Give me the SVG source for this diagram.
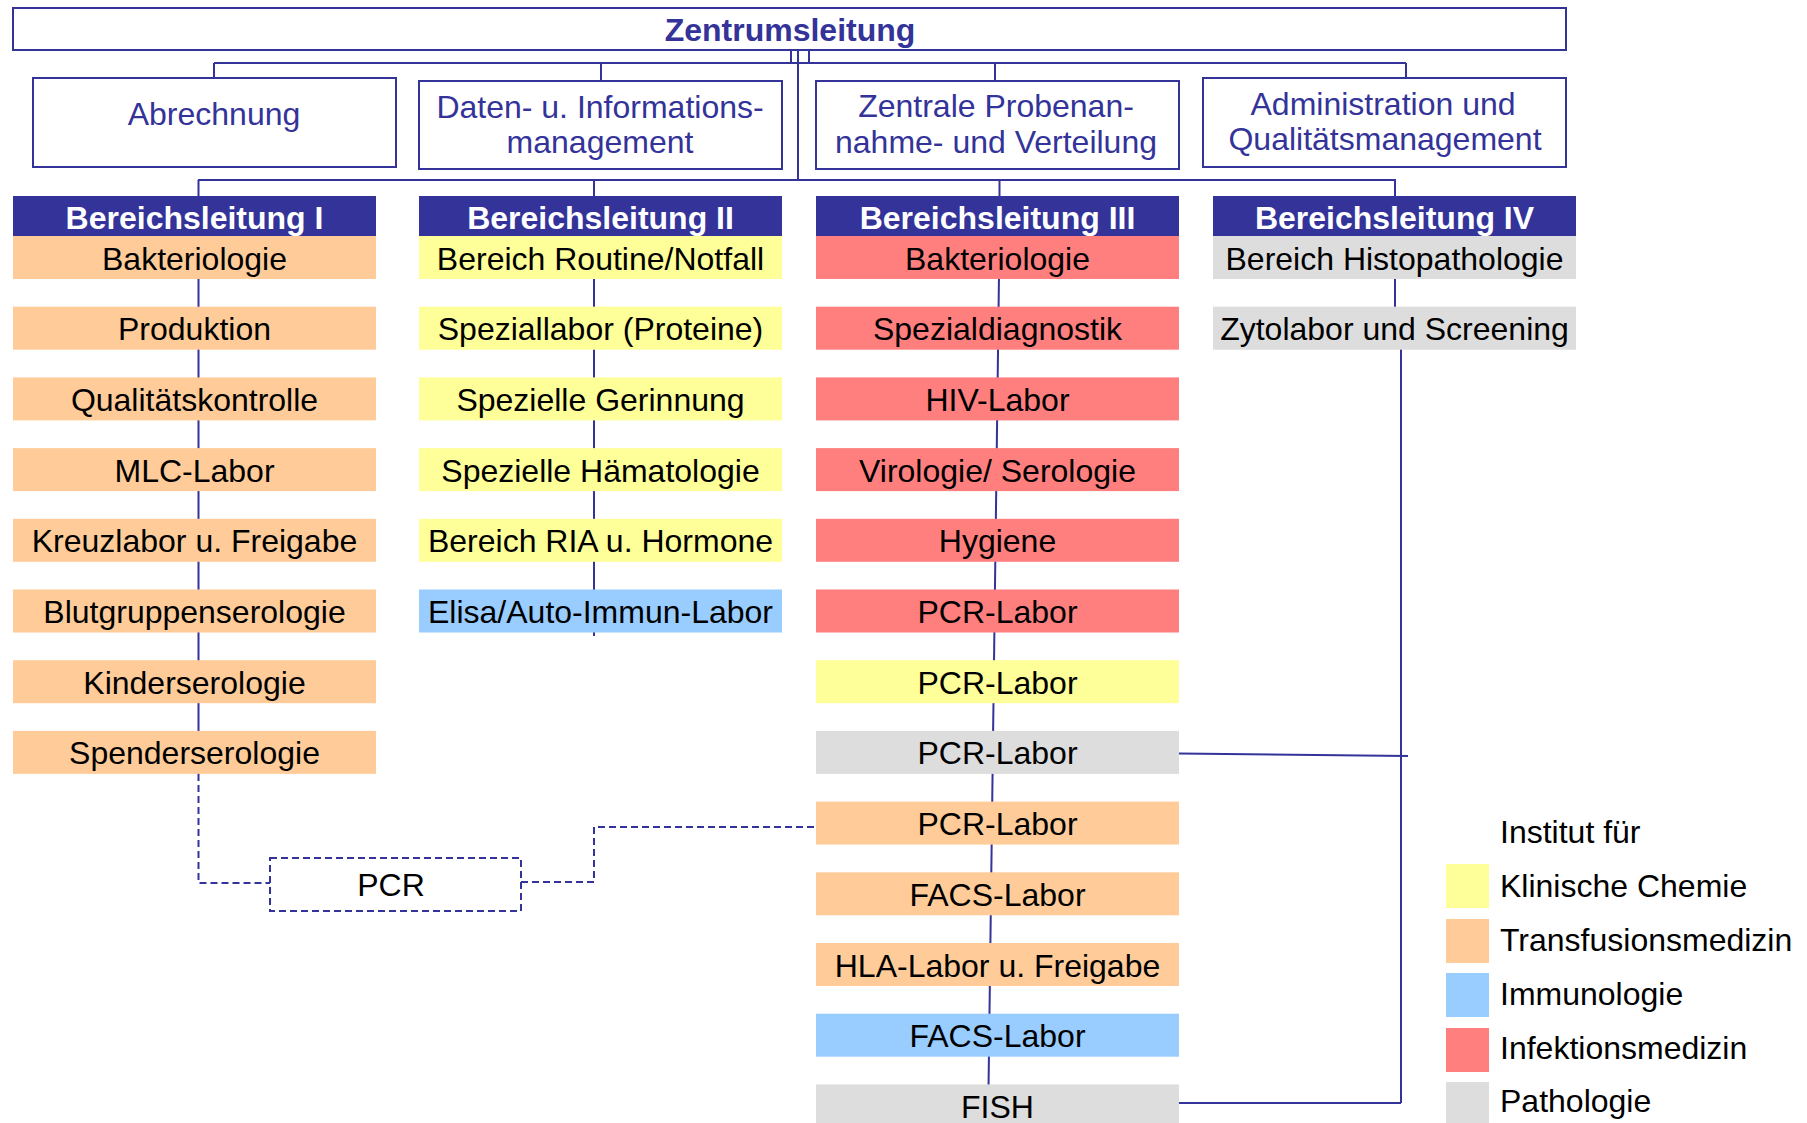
<svg xmlns="http://www.w3.org/2000/svg" width="1807" height="1123" viewBox="0 0 1807 1123">
<style>
text{font-family:"Liberation Sans",Arial,sans-serif;font-size:32px;text-anchor:middle}
.staff{fill:#fff;stroke:#333399;stroke-width:2}
.st{fill:#333399}
.hd{fill:#333399}
.ht{fill:#fff;font-weight:bold}
.it{fill:#000}
.or{fill:#FFCC99}.ye{fill:#FFFF99}.rd{fill:#FF7F7F}.bl{fill:#99CCFF}.gr{fill:#DDDDDD}
.ln{stroke:#333399;stroke-width:2;fill:none}
.dash{stroke:#333399;stroke-width:2;fill:none;stroke-dasharray:7 4}
.lg{text-anchor:start;fill:#000}
</style>
<g id="connectors">
<line class="ln" x1="798" y1="50" x2="798" y2="180" stroke-width="3"/>
<line class="ln" x1="791" y1="50" x2="791" y2="63"/>
<line class="ln" x1="809" y1="50" x2="809" y2="63"/>
<line class="ln" x1="214" y1="63" x2="1406" y2="63"/>
<line class="ln" x1="214" y1="63" x2="214" y2="78"/>
<line class="ln" x1="601" y1="63" x2="601" y2="81"/>
<line class="ln" x1="995" y1="63" x2="995" y2="81"/>
<line class="ln" x1="1406" y1="63" x2="1406" y2="78"/>
<line class="ln" x1="198" y1="180" x2="1396" y2="180"/>
<line class="ln" x1="594" y1="180" x2="999" y2="180" stroke-width="3"/>
<line class="ln" x1="198.5" y1="180" x2="198.5" y2="774"/>
<line class="ln" x1="594" y1="180" x2="594" y2="636"/>
<line class="ln" x1="999.5" y1="180" x2="999.5" y2="236"/>
<line class="ln" x1="999.5" y1="236" x2="988.5" y2="1090"/>
<line class="ln" x1="1395" y1="180" x2="1395" y2="307"/>
<line class="ln" x1="1401" y1="349" x2="1401" y2="1103"/>
<line class="ln" x1="1179" y1="753.5" x2="1408" y2="756"/>
<line class="ln" x1="1179" y1="1103" x2="1401" y2="1103"/>
<path class="dash" d="M198.5 774 V883 H270"/>
<path class="dash" d="M521 882 H594 V827 H816"/>
</g>
<g id="zentrumsleitung">
<rect class="staff" x="13" y="8" width="1553" height="42"/>
<text class="st" x="790" y="41" font-weight="bold">Zentrumsleitung</text>
</g>
<g id="abrechnung">
<rect class="staff" x="33" y="78" width="363" height="89"/>
<text class="st" x="214" y="124.5">Abrechnung</text>
</g>
<g id="daten">
<rect class="staff" x="419" y="81" width="363" height="88"/>
<text class="st" x="600" y="117.5">Daten- u. Informations-</text>
<text class="st" x="600" y="152.5">management</text>
</g>
<g id="zentrale">
<rect class="staff" x="816" y="81" width="363" height="88"/>
<text class="st" x="996" y="117">Zentrale Probenan-</text>
<text class="st" x="996" y="152.5">nahme- und Verteilung</text>
</g>
<g id="administration">
<rect class="staff" x="1203" y="78" width="363" height="89"/>
<text class="st" x="1383" y="115">Administration und</text>
<text class="st" x="1385" y="150">Qualitätsmanagement</text>
</g>
<g id="bl1">
<rect class="hd" x="13" y="196" width="363" height="40"/>
<text class="ht" x="194.5" y="228.5">Bereichsleitung I</text>
</g>
<g id="bl2">
<rect class="hd" x="419" y="196" width="363" height="40"/>
<text class="ht" x="600.5" y="228.5">Bereichsleitung II</text>
</g>
<g id="bl3">
<rect class="hd" x="816" y="196" width="363" height="40"/>
<text class="ht" x="997.5" y="228.5">Bereichsleitung III</text>
</g>
<g id="bl4">
<rect class="hd" x="1213" y="196" width="363" height="40"/>
<text class="ht" x="1394.5" y="228.5">Bereichsleitung IV</text>
</g>
<g id="c1-0"><rect class="or" x="13" y="236" width="363" height="43"/><text class="it" x="194.5" y="269.5">Bakteriologie</text></g>
<g id="c1-1"><rect class="or" x="13" y="306.7" width="363" height="43"/><text class="it" x="194.5" y="340.2">Produktion</text></g>
<g id="c1-2"><rect class="or" x="13" y="377.4" width="363" height="43"/><text class="it" x="194.5" y="410.9">Qualitätskontrolle</text></g>
<g id="c1-3"><rect class="or" x="13" y="448.1" width="363" height="43"/><text class="it" x="194.5" y="481.6">MLC-Labor</text></g>
<g id="c1-4"><rect class="or" x="13" y="518.8" width="363" height="43"/><text class="it" x="194.5" y="552.3">Kreuzlabor u. Freigabe</text></g>
<g id="c1-5"><rect class="or" x="13" y="589.5" width="363" height="43"/><text class="it" x="194.5" y="623">Blutgruppenserologie</text></g>
<g id="c1-6"><rect class="or" x="13" y="660.2" width="363" height="43"/><text class="it" x="194.5" y="693.7">Kinderserologie</text></g>
<g id="c1-7"><rect class="or" x="13" y="730.9" width="363" height="43"/><text class="it" x="194.5" y="764.4">Spenderserologie</text></g>
<g id="c2-0"><rect class="ye" x="419" y="236" width="363" height="43"/><text class="it" x="600.5" y="269.5">Bereich Routine/Notfall</text></g>
<g id="c2-1"><rect class="ye" x="419" y="306.7" width="363" height="43"/><text class="it" x="600.5" y="340.2">Speziallabor (Proteine)</text></g>
<g id="c2-2"><rect class="ye" x="419" y="377.4" width="363" height="43"/><text class="it" x="600.5" y="410.9">Spezielle Gerinnung</text></g>
<g id="c2-3"><rect class="ye" x="419" y="448.1" width="363" height="43"/><text class="it" x="600.5" y="481.6">Spezielle Hämatologie</text></g>
<g id="c2-4"><rect class="ye" x="419" y="518.8" width="363" height="43"/><text class="it" x="600.5" y="552.3">Bereich RIA u. Hormone</text></g>
<g id="c2-5"><rect class="bl" x="419" y="589.5" width="363" height="43"/><text class="it" x="600.5" y="623">Elisa/Auto-Immun-Labor</text></g>
<g id="c3-0"><rect class="rd" x="816" y="236" width="363" height="43"/><text class="it" x="997.5" y="269.5">Bakteriologie</text></g>
<g id="c3-1"><rect class="rd" x="816" y="306.7" width="363" height="43"/><text class="it" x="997.5" y="340.2">Spezialdiagnostik</text></g>
<g id="c3-2"><rect class="rd" x="816" y="377.4" width="363" height="43"/><text class="it" x="997.5" y="410.9">HIV-Labor</text></g>
<g id="c3-3"><rect class="rd" x="816" y="448.1" width="363" height="43"/><text class="it" x="997.5" y="481.6">Virologie/ Serologie</text></g>
<g id="c3-4"><rect class="rd" x="816" y="518.8" width="363" height="43"/><text class="it" x="997.5" y="552.3">Hygiene</text></g>
<g id="c3-5"><rect class="rd" x="816" y="589.5" width="363" height="43"/><text class="it" x="997.5" y="623">PCR-Labor</text></g>
<g id="c3-6"><rect class="ye" x="816" y="660.2" width="363" height="43"/><text class="it" x="997.5" y="693.7">PCR-Labor</text></g>
<g id="c3-7"><rect class="gr" x="816" y="730.9" width="363" height="43"/><text class="it" x="997.5" y="764.4">PCR-Labor</text></g>
<g id="c3-8"><rect class="or" x="816" y="801.6" width="363" height="43"/><text class="it" x="997.5" y="835.1">PCR-Labor</text></g>
<g id="c3-9"><rect class="or" x="816" y="872.3" width="363" height="43"/><text class="it" x="997.5" y="905.8">FACS-Labor</text></g>
<g id="c3-10"><rect class="or" x="816" y="943" width="363" height="43"/><text class="it" x="997.5" y="976.5">HLA-Labor u. Freigabe</text></g>
<g id="c3-11"><rect class="bl" x="816" y="1013.7" width="363" height="43"/><text class="it" x="997.5" y="1047.2">FACS-Labor</text></g>
<g id="c3-12"><rect class="gr" x="816" y="1084.4" width="363" height="43"/><text class="it" x="997.5" y="1117.9">FISH</text></g>
<g id="c4-0"><rect class="gr" x="1213" y="236" width="363" height="43"/><text class="it" x="1394.5" y="269.5">Bereich Histopathologie</text></g>
<g id="c4-1"><rect class="gr" x="1213" y="306.7" width="363" height="43"/><text class="it" x="1394.5" y="340.2">Zytolabor und Screening</text></g>
<g id="pcr">
<rect x="270" y="858" width="251" height="53" fill="#fff" stroke="#333399" stroke-width="2" stroke-dasharray="7 4"/>
<text class="it" x="391" y="895.5">PCR</text>
</g>
<g id="legend">
<text class="lg" x="1500" y="843">Institut für</text>
<rect class="ye" x="1446" y="864" width="43" height="44"/>
<text class="lg" x="1500" y="896.5">Klinische Chemie</text>
<rect class="or" x="1446" y="919" width="43" height="44"/>
<text class="lg" x="1500" y="950.5">Transfusionsmedizin</text>
<rect class="bl" x="1446" y="973" width="43" height="44"/>
<text class="lg" x="1500" y="1004.5">Immunologie</text>
<rect class="rd" x="1446" y="1028" width="43" height="44"/>
<text class="lg" x="1500" y="1058.5">Infektionsmedizin</text>
<rect class="gr" x="1446" y="1082" width="43" height="44"/>
<text class="lg" x="1500" y="1111.5">Pathologie</text>
</g>
</svg>
